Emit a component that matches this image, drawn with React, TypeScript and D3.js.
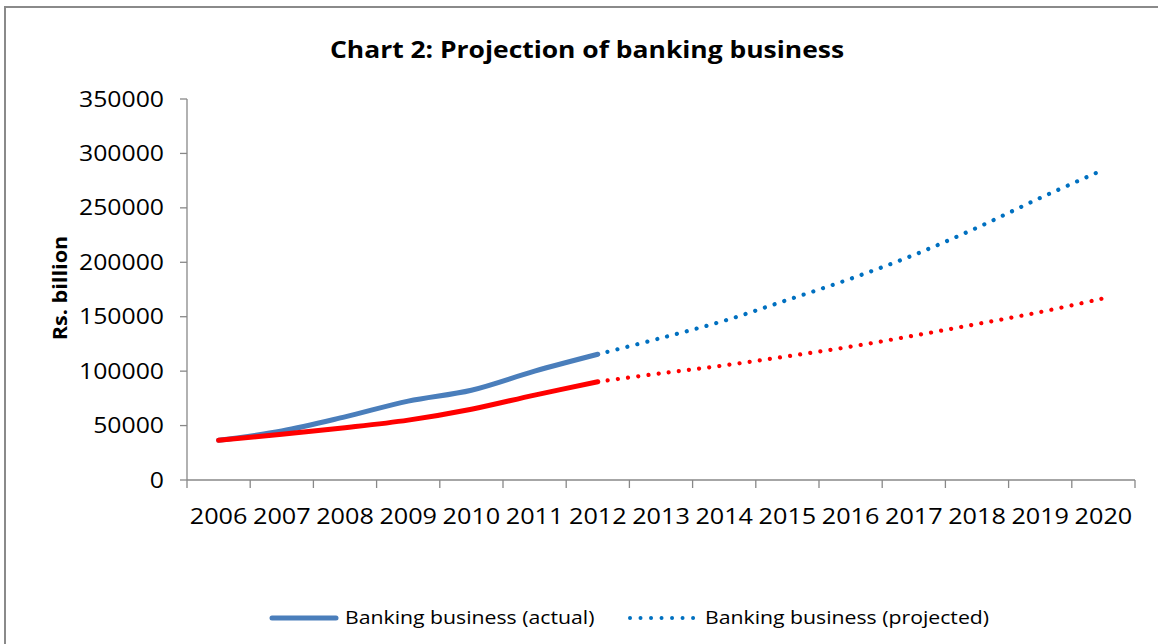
import React from "react";
import * as d3 from "d3";

const years = ["2006","2007","2008","2009","2010","2011","2012","2013","2014","2015","2016","2017","2018","2019","2020"];
const yTicks = [0, 50000, 100000, 150000, 200000, 250000, 300000, 350000];

const actualYears = ["2006","2007","2008","2009","2010","2011","2012"];
const actualBlue = [36600, 45000, 58000, 72500, 82500, 100000, 115500];
const actualRed = [36600, 42000, 48000, 55000, 65000, 78000, 90300];

const projYears = ["2012","2013","2014","2015","2016","2017","2018","2019","2020"];
const projBlue = [115500, 130400, 146300, 165400, 184900, 206700, 231800, 259100, 285000];
const projRed = [90300, 98000, 105300, 113600, 122500, 132600, 143300, 154300, 166900];

const W = 1158, H = 644;
const FONT = "'Open Sans', 'Noto Sans', sans-serif";

function SText(props: {
  x: number; y: number; sx?: number; anchor?: string; size: number; bold?: boolean; rotate?: number; dy?: string; children: React.ReactNode;
}) {
  const { x, y, sx = 1.18, anchor = "start", size, bold, rotate = 0, dy, children } = props;
  const tr = rotate
    ? `translate(${x},${y}) rotate(${rotate}) scale(${sx},1)`
    : `translate(${x},${y}) scale(${sx},1)`;
  return (
    <text transform={tr} textAnchor={anchor} dy={dy} fontFamily={FONT} fontWeight={bold ? "bold" : "normal"} fontSize={size} fill="#000">
      {children}
    </text>
  );
}

export default function App() {
  const x = d3.scaleBand<string>().domain(years).range([187, 1135]).padding(0);
  const y = d3.scaleLinear().domain([0, 350000]).range([480, 99]);
  const cx = (yr: string) => (x(yr) as number) + x.bandwidth() / 2;

  const line = d3
    .line<[string, number]>()
    .x((d) => cx(d[0]))
    .y((d) => y(d[1]))
    .curve(d3.curveCatmullRom.alpha(0.5));

  const zip = (a: string[], b: number[]) => a.map((k, i) => [k, b[i]] as [string, number]);
  const axisColor = "#888888";

  const boundaries = years.map((yr) => x(yr) as number).concat([1135]);

  return (
    <svg width={W} height={H} style={{ position: "absolute", left: 0, top: 0, background: "#fff" }}>
      <rect x={0} y={0} width={W} height={H} fill="#fff" />
      <rect x={5} y={7} width={1300} height={800} fill="none" stroke="#8a8a8a" strokeWidth={2} />
      <SText x={587} y={58} anchor="middle" size={23} bold sx={1.15}>
        Chart 2: Projection of banking business
      </SText>

      {/* Y axis */}
      <line x1={187} x2={187} y1={99} y2={480} stroke={axisColor} strokeWidth={1.3} />
      {yTicks.map((t) => (
        <g key={t}>
          <line x1={180} x2={187} y1={y(t)} y2={y(t)} stroke={axisColor} strokeWidth={1.3} />
          <SText x={164} y={y(t)} dy="0.36em" anchor="end" size={21}>
            {t}
          </SText>
        </g>
      ))}
      <SText x={67} y={288} rotate={-90} anchor="middle" size={19} bold sx={1.14}>
        Rs. billion
      </SText>

      {/* X axis */}
      <line x1={187} x2={1135} y1={480} y2={480} stroke={axisColor} strokeWidth={1.3} />
      {boundaries.map((b, i) => (
        <line key={i} x1={b} x2={b} y1={480} y2={488} stroke={axisColor} strokeWidth={1.3} />
      ))}
      {years.map((yr) => (
        <SText key={yr} x={cx(yr)} y={524} anchor="middle" size={21} sx={1.2}>
          {yr}
        </SText>
      ))}

      {/* Series */}
      <path d={line(zip(actualYears, actualBlue)) || ""} fill="none" stroke="#4A7EBB" strokeWidth={5} strokeLinecap="round" />
      <path d={line(zip(actualYears, actualRed)) || ""} fill="none" stroke="#FF0000" strokeWidth={5} strokeLinecap="round" />
      <path
        d={line(zip(projYears, projBlue)) || ""}
        fill="none"
        stroke="#0070C0"
        strokeWidth={4.2}
        strokeLinecap="round"
        strokeDasharray="0.01 10.2"
        strokeDashoffset={-10.2}
      />
      <path
        d={line(zip(projYears, projRed)) || ""}
        fill="none"
        stroke="#FF0000"
        strokeWidth={4.2}
        strokeLinecap="round"
        strokeDasharray="0.01 10.2"
        strokeDashoffset={-10.2}
      />

      {/* Legend */}
      <line x1={272} x2={336} y1={618} y2={618} stroke="#4A7EBB" strokeWidth={5} strokeLinecap="round" />
      <SText x={345} y={618} dy="0.35em" size={18}>
        Banking business (actual)
      </SText>
      <line
        x1={630}
        x2={694}
        y1={618}
        y2={618}
        stroke="#0070C0"
        strokeWidth={4}
        strokeLinecap="round"
        strokeDasharray="0.01 10.5"
      />
      <SText x={705} y={618} dy="0.35em" size={18}>
        Banking business (projected)
      </SText>
    </svg>
  );
}
